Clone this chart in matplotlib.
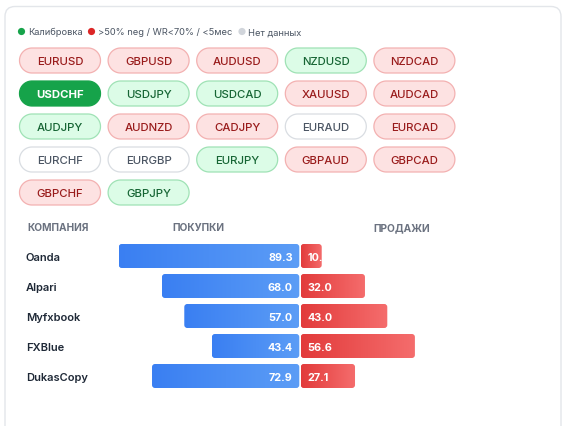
import numpy as np
import matplotlib
matplotlib.use("Agg")
import matplotlib.pyplot as plt
from matplotlib.patches import FancyBboxPatch, Circle, Polygon
from matplotlib.colors import LinearSegmentedColormap

plt.rcParams['font.family'] = ['Inter', 'DejaVu Sans']

# ---- data ----
pairs = ["EURUSD", "GBPUSD", "AUDUSD", "NZDUSD", "NZDCAD",
         "USDCHF", "USDJPY", "USDCAD", "XAUUSD", "AUDCAD",
         "AUDJPY", "AUDNZD", "CADJPY", "EURAUD", "EURCAD",
         "EURCHF", "EURGBP", "EURJPY", "GBPAUD", "GBPCAD",
         "GBPCHF", "GBPJPY"]
status = ["red", "red", "red", "green", "red",
          "selected", "green", "green", "red", "red",
          "green", "red", "red", "gray", "red",
          "gray", "gray", "green", "red", "red",
          "red", "green"]
legend_labels = ["Калибровка", ">50% neg / WR<70% / <5мес", "Нет данных"]
companies = ["Oanda", "Alpari", "Myfxbook", "FXBlue", "DukasCopy"]
buys = [89.3, 68.0, 57.0, 43.4, 72.9]
sells = [10.7, 32.0, 43.0, 56.6, 27.1]
headers = ["КОМПАНИЯ", "ПОКУПКИ", "ПРОДАЖИ"]

W, H = 566, 427
fig = plt.figure(figsize=(W / 100, H / 100), dpi=100)
fig.patch.set_facecolor("white")

# background axes in pixel coordinates
bg = fig.add_axes([0, 0, 1, 1])
bg.set_xlim(0, W)
bg.set_ylim(H, 0)
bg.axis("off")

# card
card = FancyBboxPatch((5, 7.5), 556, 450, boxstyle="round,pad=0,rounding_size=10",
                      facecolor="white", edgecolor="#e3e6ea", linewidth=1.0)
bg.add_patch(card)

# legend
leg_colors = ["#16a34a", "#dc2626", "#d1d5db"]
leg_dot_x = [21.5, 91.5, 242]
for lx, lc, lt in zip(leg_dot_x, leg_colors, legend_labels):
    bg.add_patch(Circle((lx, 32.5), 3.6, facecolor=lc, edgecolor="none"))
    bg.text(lx + 6.5, 32.8, lt, fontsize=6.7, color="#4b5563", va="center", ha="left")


def stadium(x0, y0, w, h):
    r = h / 2
    t = np.linspace(-np.pi / 2, np.pi / 2, 40)
    right = np.column_stack([x0 + w - r + r * np.cos(t), y0 + r + r * np.sin(t)])
    t2 = np.linspace(np.pi / 2, 3 * np.pi / 2, 40)
    left = np.column_stack([x0 + r + r * np.cos(t2), y0 + r + r * np.sin(t2)])
    return np.vstack([right, left])


# pills
styles = {
    "red": dict(fc="#fde2e2", ec="#f3b1b1", tc="#991b1b", w="medium"),
    "green": dict(fc="#dcfce7", ec="#9fe2b5", tc="#166534", w="medium"),
    "gray": dict(fc="white", ec="#d9dde2", tc="#4b5563", w="medium"),
    "selected": dict(fc="#16a34a", ec="#16a34a", tc="white", w="bold"),
}
pw, ph = 81, 25
for i, (p, s) in enumerate(zip(pairs, status)):
    r, c = divmod(i, 5)
    x0 = 19.5 + c * 88.6
    y0 = 49 + r * 33
    st = styles[s]
    bg.add_patch(Polygon(stadium(x0, y0, pw, ph), closed=True,
                         facecolor=st["fc"], edgecolor=st["ec"], linewidth=0.9))
    bg.text(x0 + pw / 2, y0 + ph / 2 + 0.5, p, fontsize=8.2, color=st["tc"],
            fontweight=st["w"], ha="center", va="center")

# ---- butterfly bars ----
left_px, right_px = 97, 503
top_px, bot_px = 242, 392
ax = fig.add_axes([left_px / W, 1 - bot_px / H, (right_px - left_px) / W, (bot_px - top_px) / H])
ax.set_xlim(-100, 100)
ax.set_ylim(len(companies) - 0.5, -0.5)
for sp in ax.spines.values():
    sp.set_visible(False)
ax.set_xticks([])
ax.set_yticks(range(len(companies)), companies)
ax.tick_params(axis="y", length=0, pad=(left_px - 26) * 0.72)
for lbl in ax.get_yticklabels():
    lbl.set_ha("left")
    lbl.set_fontsize(8.0)
    lbl.set_fontweight("semibold")
    lbl.set_color("#1f2937")
ax.patch.set_alpha(0)

y = np.arange(len(companies))
gap = 0.35
bh = 0.8
bbars = ax.barh(y, [-(v - gap) for v in buys], left=-gap, height=bh, color="#3b82f6")
sbars = ax.barh(y, [v - gap for v in sells], left=gap, height=bh, color="#ef4444")

blue_cmap = LinearSegmentedColormap.from_list("b", ["#3a7ff2", "#5c9df6"])
red_cmap = LinearSegmentedColormap.from_list("r", ["#e23b3b", "#f56d6d"])
grad = np.linspace(0, 1, 256).reshape(1, -1)

px_per_x = (right_px - left_px) / 200
px_per_y = (bot_px - top_px) / len(companies)
rad = 3.0
rs = rad / px_per_x
asp = (rad / px_per_y) / rs


def gradient_bar(rect, cmap):
    x0, yb = rect.get_x(), rect.get_y()
    w, h = rect.get_width(), rect.get_height()
    if w < 0:
        x0, w = x0 + w, -w
    rect.set_visible(False)
    clip = FancyBboxPatch((x0, yb), w, h,
                          boxstyle=f"round,pad=0,rounding_size={rs}",
                          mutation_aspect=asp, facecolor="none", edgecolor="none",
                          transform=ax.transData)
    ax.add_patch(clip)
    im = ax.imshow(grad, cmap=cmap, aspect="auto", extent=(x0, x0 + w, yb + h, yb),
                   interpolation="bilinear", zorder=2)
    im.set_clip_path(clip)
    return clip


for rect, v, yy in zip(bbars, buys, y):
    gradient_bar(rect, blue_cmap)
    ax.text(-3.6, yy + 0.02, f"{v:.1f}", color="white", fontsize=7.8, fontweight="bold",
            ha="right", va="center", zorder=3)
for rect, v, yy in zip(sbars, sells, y):
    clip = gradient_bar(rect, red_cmap)
    t = ax.text(3.6, yy + 0.02, f"{v:.1f}", color="white", fontsize=7.8, fontweight="bold",
                ha="left", va="center", zorder=3)
    t.set_clip_path(clip)

ax.set_xlim(-100, 100)
ax.set_ylim(len(companies) - 0.5, -0.5)

# headers
bg.text(27, 228, headers[0], fontsize=7.3, fontweight="bold", color="#6b7280",
        ha="left", va="center")
bg.text(300 - 50 * px_per_x, 228, headers[1], fontsize=7.3, fontweight="bold",
        color="#6b7280", ha="center", va="center")
bg.text(300 + 50 * px_per_x, 228, headers[2], fontsize=7.3, fontweight="bold",
        color="#6b7280", ha="center", va="center")

fig.savefig("out.png", dpi=100, facecolor="white")
